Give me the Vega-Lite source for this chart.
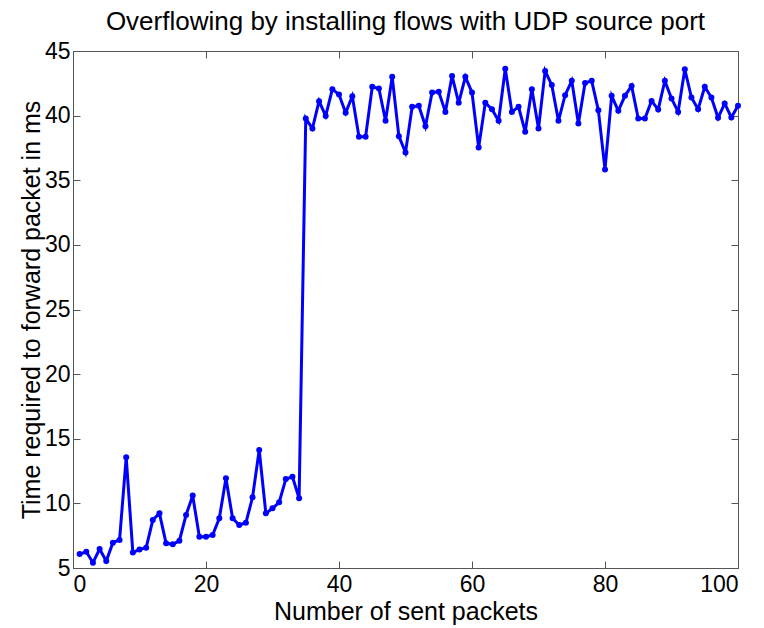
{
  "$schema": "https://vega.github.io/schema/vega-lite/v6.json",
  "width": 665,
  "height": 517,
  "autosize": {"type": "none"},
  "padding": {"left": 73, "top": 51, "right": 26, "bottom": 60},
  "background": "white",
  "title": {"text": "Overflowing by installing flows with UDP source port", "font": "Liberation Sans", "fontSize": 26, "fontWeight": "normal", "color": "black", "offset": 5},
  "config": {
    "view": {"stroke": "#555555", "strokeWidth": 1},
    "axis": {"labelFont": "Liberation Sans", "labelFontSize": 23, "labelColor": "black", "titleFont": "Liberation Sans", "titleFontSize": 25, "titleFontWeight": "normal", "titleColor": "black", "grid": false, "domainColor": "#555555", "tickColor": "#555555", "tickSize": -7}
  },
  "data": {"values": [
    {"n":1,"t":6.08},{"n":2,"t":6.26},{"n":3,"t":5.41},{"n":4,"t":6.47},{"n":5,"t":5.54},
    {"n":6,"t":6.96},{"n":7,"t":7.17},{"n":8,"t":13.56},{"n":9,"t":6.19},{"n":10,"t":6.44},
    {"n":11,"t":6.57},{"n":12,"t":8.71},{"n":13,"t":9.23},{"n":14,"t":6.91},{"n":15,"t":6.83},
    {"n":16,"t":7.11},{"n":17,"t":9.1},{"n":18,"t":10.6},{"n":19,"t":7.42},{"n":20,"t":7.42},
    {"n":21,"t":7.55},{"n":22,"t":8.84},{"n":23,"t":11.94},{"n":24,"t":8.84},{"n":25,"t":8.33},
    {"n":26,"t":8.5},{"n":27,"t":10.47},{"n":28,"t":14.13},{"n":29,"t":9.23},{"n":30,"t":9.62},
    {"n":31,"t":10.08},{"n":32,"t":11.88},{"n":33,"t":12.06},{"n":34,"t":10.39},{"n":35,"t":39.78},
    {"n":36,"t":39.0},{"n":37,"t":41.12},{"n":38,"t":39.98},{"n":39,"t":42.05},{"n":40,"t":41.63},
    {"n":41,"t":40.22},{"n":42,"t":41.5},{"n":43,"t":38.36},{"n":44,"t":38.36},{"n":45,"t":42.23},
    {"n":46,"t":42.1},{"n":47,"t":39.6},{"n":48,"t":43.0},{"n":49,"t":38.41},{"n":50,"t":37.15},
    {"n":51,"t":40.68},{"n":52,"t":40.76},{"n":53,"t":39.18},{"n":54,"t":41.79},{"n":55,"t":41.84},
    {"n":56,"t":40.29},{"n":57,"t":43.07},{"n":58,"t":40.99},{"n":59,"t":43.0},{"n":60,"t":41.79},
    {"n":61,"t":37.54},{"n":62,"t":40.99},{"n":63,"t":40.5},{"n":64,"t":39.6},{"n":65,"t":43.62},
    {"n":66,"t":40.29},{"n":67,"t":40.68},{"n":68,"t":38.75},{"n":69,"t":42.05},{"n":70,"t":39.0},
    {"n":71,"t":43.46},{"n":72,"t":42.36},{"n":73,"t":39.6},{"n":74,"t":41.58},{"n":75,"t":42.69},
    {"n":76,"t":39.39},{"n":77,"t":42.53},{"n":78,"t":42.69},{"n":79,"t":40.42},{"n":80,"t":35.84},
    {"n":81,"t":41.53},{"n":82,"t":40.37},{"n":83,"t":41.53},{"n":84,"t":42.3},{"n":85,"t":39.78},
    {"n":86,"t":39.78},{"n":87,"t":41.14},{"n":88,"t":40.47},{"n":89,"t":42.69},{"n":90,"t":41.33},
    {"n":91,"t":40.29},{"n":92,"t":43.59},{"n":93,"t":41.4},{"n":94,"t":40.5},{"n":95,"t":42.23},
    {"n":96,"t":41.4},{"n":97,"t":39.83},{"n":98,"t":40.94},{"n":99,"t":39.86},{"n":100,"t":40.76}
  ]},
  "layer": [
    {
      "mark": {"type": "line", "color": "#0000ff", "strokeWidth": 3, "point": {"filled": true, "color": "#0000ff", "size": 36}},
      "encoding": {
        "x": {"field": "n", "type": "quantitative", "scale": {"domain": [0, 100], "nice": false}, "axis": {"values": [0, 20, 40, 60, 80, 100], "title": "Number of sent packets", "titlePadding": 3, "labelPadding": 12}},
        "y": {"field": "t", "type": "quantitative", "scale": {"domain": [5, 45], "nice": false, "zero": false}, "axis": {"values": [5, 10, 15, 20, 25, 30, 35, 40, 45], "title": "Time required to forward packet in ms", "titlePadding": 0, "labelPadding": 10}}
      }
    },
    {
      "mark": {"type": "point", "opacity": 0},
      "encoding": {
        "x": {"field": "n", "type": "quantitative", "axis": {"orient": "top", "values": [0, 20, 40, 60, 80, 100], "labels": false, "title": null}},
        "y": {"field": "t", "type": "quantitative", "axis": {"orient": "right", "values": [5, 10, 15, 20, 25, 30, 35, 40, 45], "labels": false, "title": null}}
      }
    }
  ],
  "resolve": {"axis": {"x": "independent", "y": "independent"}}
}
